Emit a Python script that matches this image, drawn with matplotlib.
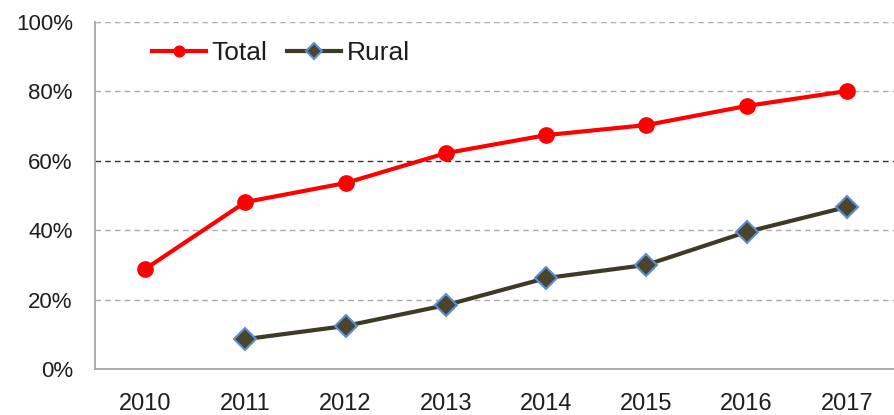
import matplotlib
matplotlib.use("Agg")
import matplotlib.pyplot as plt
from matplotlib.ticker import FuncFormatter
import numpy as np

years = ["2010", "2011", "2012", "2013", "2014", "2015", "2016", "2017"]
total = [28.8, 48.1, 53.6, 62.2, 67.4, 70.3, 75.8, 80.1]
rural = [np.nan, 8.6, 12.4, 18.4, 26.2, 30.0, 39.5, 46.7]
yticks = [0, 20, 40, 60, 80, 100]

plt.rcParams['font.family'] = ['Liberation Sans', 'DejaVu Sans']

W, H = 894, 415
fig = plt.figure(figsize=(W / 100, H / 100), dpi=100)
left, right, top, bottom = 95, 897, 22, 369
ax = fig.add_axes([left / W, 1 - bottom / H, (right - left) / W, (bottom - top) / H])

x = np.arange(len(years))
ax.plot(x, total, color='#ff0000', lw=3, marker='o', ms=11,
        markerfacecolor='#ff0000', markeredgecolor='#ff0000', label='Total', zorder=3)
ax.plot(x, rural, color='#3d3a26', lw=3, marker='D', ms=11,
        markerfacecolor='#4a452c', markeredgecolor='#5b8fd6', markeredgewidth=1.5,
        label='Rural', zorder=3)

ax.set_xlim(-0.5, len(years) - 0.5)
ax.set_ylim(0, 100)
ax.set_xticks(x)
ax.set_xticklabels(years)
ax.set_yticks(yticks)
ax.yaxis.set_major_formatter(FuncFormatter(lambda v, p: f"{int(v)}%"))
ax.tick_params(axis='x', length=0, pad=17, labelsize=17, colors='#1e1e1e')
ax.tick_params(axis='y', length=0, pad=16, labelsize=16, colors='#1e1e1e')

for yv in yticks[1:]:
    c = '#333333' if yv == 60 else '#aaaaaa'
    ax.axhline(yv, color=c, lw=1, ls=(0, (4, 3)), zorder=1)

for s in ['top', 'right']:
    ax.spines[s].set_visible(False)
for s in ['left', 'bottom']:
    ax.spines[s].set_color('#a6a6a6')
    ax.spines[s].set_linewidth(1.3)

leg = ax.legend(loc='center left', bbox_to_anchor=(152 / W, 1 - 53 / H),
                bbox_transform=fig.transFigure, ncol=2, frameon=False,
                fontsize=19, handlelength=2.05, handletextpad=0.2,
                columnspacing=0.75, markerscale=0.7, borderpad=0,
                borderaxespad=0)
for t in leg.get_texts():
    t.set_color('#1e1e1e')

fig.savefig('out.png', dpi=100)
